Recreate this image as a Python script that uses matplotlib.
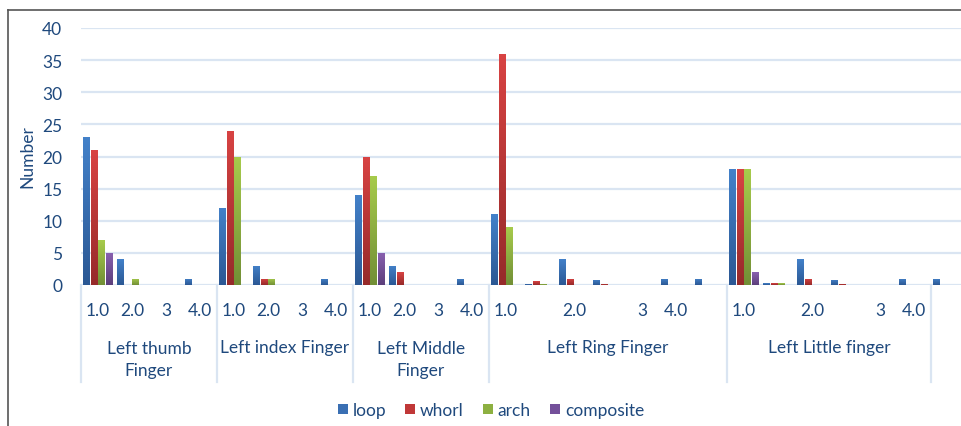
import numpy as np
import matplotlib
matplotlib.use("Agg")
import matplotlib.pyplot as plt
from matplotlib.colors import LinearSegmentedColormap
from matplotlib.patches import Patch
from matplotlib.lines import Line2D

plt.rcParams['font.family'] = ['Lato', 'DejaVu Sans']

# one slot per category on the lower axis level
slot_labels = ["1.0", "2.0", "3", "4.0",
               "1.0", "2.0", "3", "4.0",
               "1.0", "2.0", "3", "4.0",
               "1.0", "", "2.0", "", "3", "4.0", "",
               "1.0", "", "2.0", "", "3", "4.0",
               ""]
group_names = ["Left thumb\nFinger", "Left index Finger", "Left Middle\nFinger",
               "Left Ring Finger", "Left Little finger"]
group_sizes = [4, 4, 4, 7, 6]

series_names = ["loop", "whorl", "arch", "composite"]
loop = [23, 4, 0, 1,
        12, 3, 0, 1,
        14, 3, 0, 1,
        11, 0.2, 4, 0.8, 0, 1, 1,
        18, 0.3, 4, 0.8, 0, 1,
        1]
whorl = [21, 0, 0, 0,
         24, 1, 0, 0,
         20, 2, 0, 0,
         36, 0.6, 1, 0.2, 0, 0, 0,
         18, 0.3, 1, 0.2, 0, 0,
         0]
arch = [7, 1, 0, 0,
        20, 1, 0, 0,
        17, 0, 0, 0,
        9, 0.2, 0, 0, 0, 0, 0,
        18, 0.3, 0, 0, 0, 0,
        0]
composite = [5, 0, 0, 0,
             0, 0, 0, 0,
             5, 0, 0, 0,
             0, 0, 0, 0, 0, 0, 0,
             2, 0, 0, 0, 0, 0,
             0]

# (top, bottom) gradient colours
colors = [("#4381C9", "#2B5894"), ("#D84343", "#962A2A"),
          ("#A7CB4C", "#728F36"), ("#8961B0", "#5C3F7B")]
mid_colors = ["#3A6FB3", "#C03838", "#8DB041", "#74509A"]
text_color = "#1F497D"
grid_color = "#DAE5F2"

W, H = 962, 427
fig = plt.figure(figsize=(W / 100, H / 100), dpi=100)
ax = fig.add_axes([81 / W, 141 / H, (W - 81) / W, 257 / H])

n = len(slot_labels)
x = np.arange(n)
bw = 0.2
offsets = [0.17, 0.39, 0.61, 0.83]

for vals, off, (ctop, cbot) in zip([loop, whorl, arch, composite], offsets, colors):
    cmap = LinearSegmentedColormap.from_list("g", [cbot, ctop])
    bars = ax.bar(x + off, vals, width=bw, color="none", linewidth=0, zorder=3)
    for b, v in zip(bars, vals):
        if v <= 0:
            continue
        x0 = b.get_x()
        grad = np.linspace(0, 1, 64).reshape(-1, 1)
        im = ax.imshow(grad, extent=[x0, x0 + bw, 0, v], origin="lower",
                       cmap=cmap, aspect="auto", zorder=3, interpolation="bilinear")
        im.set_clip_path(b)

ax.set_xlim(0, (W - 81) / 34)
ax.set_ylim(0, 40)
ax.set_yticks(np.arange(0, 41, 5))
ax.set_xticks([])
ax.grid(axis="y", color=grid_color, linewidth=1.6, zorder=0)
ax.set_axisbelow(True)
for s in ax.spines.values():
    s.set_visible(False)
ax.tick_params(axis="y", length=0, pad=13.5, labelsize=12.5, labelcolor=text_color)

# category axis, two levels
tr = ax.get_xaxis_transform()
for i, lab in enumerate(slot_labels):
    if lab:
        ax.text(i + 0.5, -0.097, lab, transform=tr, ha="center", va="center",
                fontsize=12.5, color=text_color)

bounds = np.concatenate([[0], np.cumsum(group_sizes)])
for name, a, b in zip(group_names, bounds[:-1], bounds[1:]):
    yc = -0.288 if "\n" in name else -0.241
    ax.text((a + b) / 2, yc, name, transform=tr, ha="center", va="center",
            fontsize=12.5, color=text_color, linespacing=1.45)
for bx in bounds:
    ax.add_line(Line2D([bx, bx], [0, -0.377], transform=tr, color=grid_color,
                       linewidth=1.6, clip_on=False))

fig.text(27 / W, 1 - 157 / H, "Number", rotation=90, ha="center", va="center",
         fontsize=12.5, color=text_color)

handles = [Patch(facecolor=c, edgecolor="none") for c in mid_colors]
leg = fig.legend(handles, series_names, loc="center", bbox_to_anchor=(491 / W, 1 - 411 / H),
                 ncol=4, frameon=False, fontsize=12.5, handlelength=0.55, handleheight=0.55,
                 handletextpad=0.3, columnspacing=1.1, borderaxespad=0)
for t in leg.get_texts():
    t.set_color(text_color)

# chart area border (cropped at right and bottom)
fig.add_artist(Line2D([8 / W, 8 / W], [0, 1 - 11 / H], transform=fig.transFigure,
                      color="#555555", linewidth=1.2))
fig.add_artist(Line2D([8 / W, 1], [1 - 11 / H, 1 - 11 / H], transform=fig.transFigure,
                      color="#555555", linewidth=1.2))

fig.savefig("out.png", dpi=100)
